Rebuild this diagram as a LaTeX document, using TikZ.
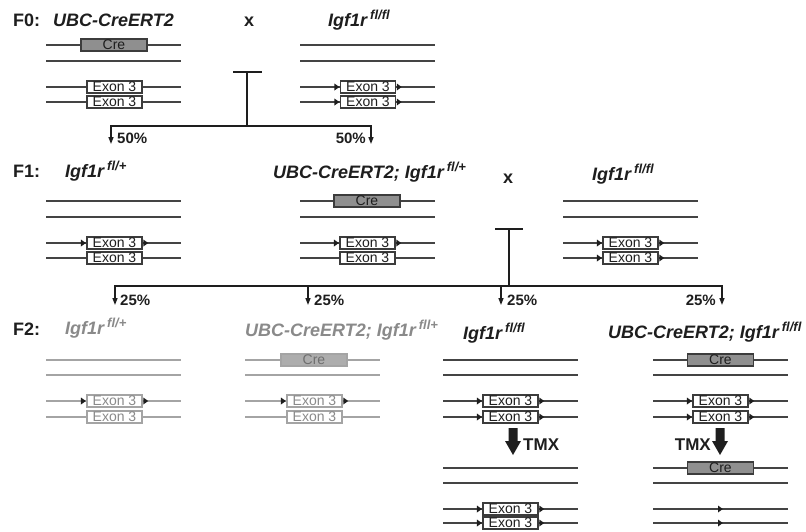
\documentclass[tikz,border=0pt]{standalone}
\usepackage{fontspec}
\setmainfont{Liberation Sans}[Ligatures=NoCommon]
\usetikzlibrary{arrows.meta}
\definecolor{ink}{HTML}{1E1E1E}
\definecolor{chr}{HTML}{444444}
\definecolor{boxc}{HTML}{3C3C3C}
\definecolor{crefill}{HTML}{8F8F8F}
\definecolor{fade}{HTML}{8A8A8A}
\definecolor{fadeline}{HTML}{A4A4A4}
\definecolor{fadecre}{HTML}{ADADAD}
\newcommand\chromat[3][]{\draw[chromline,#1] (#2,#3) -- ++(135,0);}
\newcommand\loxleft[2][]{\fill[loxp,#1] ([xshift=-5.5pt,yshift=3.5pt]#2.west) -- ([xshift=-0.6pt]#2.west) -- ([xshift=-5.5pt,yshift=-3.5pt]#2.west) -- cycle;}
\newcommand\loxright[2][]{\fill[loxp,#1] ([xshift=0.8pt,yshift=3.5pt]#2.east) -- ([xshift=5.6pt]#2.east) -- ([xshift=0.8pt,yshift=-3.5pt]#2.east) -- cycle;}
\newcommand\loxboth[2][]{\loxleft[#1]{#2}\loxright[#1]{#2}}
\newcommand\sups[1]{\hspace{3pt}\raisebox{7pt}{\fontsize{13}{13}\selectfont #1}}
\newcommand\tmxarrow[2]{\fill[ink] (#1-4.5,#2) -- (#1+4.5,#2) -- (#1+4.5,#2+13) -- (#1+8,#2+13) -- (#1,#2+27) -- (#1-8,#2+13) -- (#1-4.5,#2+13) -- cycle;}
\begin{document}
\begin{tikzpicture}[x=1pt,y=-1pt,
  chromline/.style={draw=chr,line width=1.3pt},
  exonbox/.style={draw=boxc,fill=white,line width=1.1pt,minimum width=55pt,minimum height=12pt,inner sep=0pt,text=ink,font=\fontsize{14}{14}\selectfont},
  crebox/.style={draw=boxc,fill=crefill,line width=1.1pt,minimum width=66pt,minimum height=12pt,inner sep=0pt,text=ink,font=\fontsize{14}{14}\selectfont},
  loxp/.style={fill=ink},
  title/.style={anchor=base west,inner sep=0pt,text=ink,font=\fontsize{18}{18}\selectfont\bfseries\itshape},
  gen/.style={anchor=base west,inner sep=0pt,text=ink,font=\fontsize{18}{18}\selectfont\bfseries},
  pct/.style={inner sep=0pt,text=ink,font=\fontsize{15}{15}\selectfont\bfseries},
  tmx/.style={anchor=base west,inner sep=0pt,text=ink,font=\fontsize{17}{17}\selectfont\bfseries},
  tree/.style={draw=ink,line width=2pt},
  treearrow/.style={draw=ink,line width=1.4pt,-{Triangle[length=7pt,width=5pt]}},
  fadeline/.style={draw=fadeline},
  fadebox/.style={draw=fadeline,text=fade},
  fadecrebox/.style={draw=fadeline,fill=fadecre,text=fade!80!black},
  fadetext/.style={text=fade}
]
\useasboundingbox (0,0) rectangle (806,531);
\fill[white] (0,0) rectangle (806,531);

% ---------- F0 ----------
\node[gen] (f0lab) at (13,26) {F0:};
\node[title] (f0t1) at (53,26) {UBC-CreERT2};
\node[gen] (f0x) at (244,26) {x};
\node[title] (f0t2) at (328,26) {Igf1r\sups{fl/fl}};

\chromat{46}{45}\chromat{46}{61}\chromat{46}{87}\chromat{46}{102}
\node[crebox] (f0a-cre) at (114,45) {Cre};
\node[exonbox] (f0a-e1) at (114.5,87) {Exon 3};
\node[exonbox] (f0a-e2) at (114.5,102) {Exon 3};

\chromat{300}{45}\chromat{300}{61}\chromat{300}{87}\chromat{300}{102}
\node[exonbox] (f0b-e1) at (368,87) {Exon 3};
\node[exonbox] (f0b-e2) at (368,102) {Exon 3};
\loxboth{f0b-e1}\loxboth{f0b-e2}

\coordinate (t0l) at (233,72); \coordinate (t0r) at (262,72);
\coordinate (t0m) at (247,72); \coordinate (t0b) at (247,126);
\coordinate (b0l) at (111,126); \coordinate (b0r) at (371,126);
\coordinate (a0l) at (111,144); \coordinate (a0r) at (371,144);
\draw[tree] (t0l) -- (t0r);
\draw[tree] (t0m) -- (t0b);
\draw[tree,line cap=rect] (b0l) -- (b0r);
\draw[treearrow] (b0l) -- (a0l);
\draw[treearrow] (b0r) -- (a0r);
\node[pct,anchor=west] (p0l) at (117,138) {50\%};
\node[pct,anchor=east] (p0r) at (366,138) {50\%};

% ---------- F1 ----------
\node[gen] (f1lab) at (13,177) {F1:};
\node[title] (f1t1) at (65,177) {Igf1r\sups{fl/+}};
\node[title] (f1t2) at (273,178) {UBC-CreERT2; Igf1r\sups{fl/+}};
\node[gen] (f1x) at (503,183) {x};
\node[title] (f1t3) at (592,180) {Igf1r\sups{fl/fl}};

\chromat{46}{201}\chromat{46}{217}\chromat{46}{243}\chromat{46}{258}
\node[exonbox] (f1a-e1) at (114.5,243) {Exon 3};
\node[exonbox] (f1a-e2) at (114.5,258) {Exon 3};
\loxboth{f1a-e1}

\chromat{300}{201}\chromat{300}{217}\chromat{300}{243}\chromat{300}{258}
\node[crebox] (f1b-cre) at (367,201) {Cre};
\node[exonbox] (f1b-e1) at (367.5,243) {Exon 3};
\node[exonbox] (f1b-e2) at (367.5,258) {Exon 3};
\loxboth{f1b-e1}

\chromat{563}{201}\chromat{563}{217}\chromat{563}{243}\chromat{563}{258}
\node[exonbox] (f1c-e1) at (630.5,243) {Exon 3};
\node[exonbox] (f1c-e2) at (630.5,258) {Exon 3};
\loxboth{f1c-e1}\loxboth{f1c-e2}

\coordinate (t1l) at (495,229); \coordinate (t1r) at (523,229);
\coordinate (t1m) at (509,229); \coordinate (t1b) at (509,286);
\coordinate (b1a) at (115,286); \coordinate (b1b) at (308,286);
\coordinate (b1c) at (501,286); \coordinate (b1d) at (722,286);
\coordinate (a1a) at (115,305); \coordinate (a1b) at (308,305);
\coordinate (a1c) at (501,305); \coordinate (a1d) at (722,305);
\draw[tree] (t1l) -- (t1r);
\draw[tree] (t1m) -- (t1b);
\draw[tree,line cap=rect] (b1a) -- (b1d);
\draw[treearrow] (b1a) -- (a1a);
\draw[treearrow] (b1b) -- (a1b);
\draw[treearrow] (b1c) -- (a1c);
\draw[treearrow] (b1d) -- (a1d);
\node[pct,anchor=west] (p1a) at (120,300) {25\%};
\node[pct,anchor=west] (p1b) at (314,300) {25\%};
\node[pct,anchor=west] (p1c) at (507,300) {25\%};
\node[pct,anchor=east] (p1d) at (716,300) {25\%};

% ---------- F2 ----------
\node[gen] (f2lab) at (13,335) {F2:};
\node[title,fadetext] (f2t1) at (65,334) {Igf1r\sups{fl/+}};
\node[title,fadetext] (f2t2) at (245,336) {UBC-CreERT2; Igf1r\sups{fll+}};
\node[title] (f2t3) at (463,339) {Igf1r\sups{fl/fl}};
\node[title] (f2t4) at (608,338) {UBC-CreERT2; Igf1r\sups{fl/fl}};

% group 1 (faded)
\chromat[fadeline]{46}{360}\chromat[fadeline]{46}{375}\chromat[fadeline]{46}{401}\chromat[fadeline]{46}{417}
\node[exonbox,fadebox] (f2a-e1) at (114.5,401) {Exon 3};
\node[exonbox,fadebox] (f2a-e2) at (114.5,417) {Exon 3};
\loxboth{f2a-e1}

% group 2 (faded)
\chromat[fadeline]{245}{360}\chromat[fadeline]{245}{375}\chromat[fadeline]{245}{401}\chromat[fadeline]{245}{417}
\node[crebox,fadecrebox] (f2b-cre) at (314,360) {Cre};
\node[exonbox,fadebox] (f2b-e1) at (314.5,401) {Exon 3};
\node[exonbox,fadebox] (f2b-e2) at (314.5,417) {Exon 3};
\loxboth{f2b-e1}

% group 3
\chromat{443}{360}\chromat{443}{375}\chromat{443}{401}\chromat{443}{417}
\node[exonbox] (f2c-e1) at (510.5,401) {Exon 3};
\node[exonbox] (f2c-e2) at (510.5,417) {Exon 3};
\loxboth{f2c-e1}\loxboth{f2c-e2}
\tmxarrow{513}{428}
\node[tmx] (tmx1) at (523,450) {TMX};
\chromat{443}{468}\chromat{443}{483}\chromat{443}{509}\chromat{443}{523}
\node[exonbox] (f2c-e3) at (510.5,509) {Exon 3};
\node[exonbox] (f2c-e4) at (510.5,523) {Exon 3};
\loxboth{f2c-e3}\loxboth{f2c-e4}

% group 4
\chromat{653}{360}\chromat{653}{375}\chromat{653}{401}\chromat{653}{417}
\node[crebox] (f2d-cre) at (720.5,360) {Cre};
\node[exonbox] (f2d-e1) at (720.5,401) {Exon 3};
\node[exonbox] (f2d-e2) at (720.5,417) {Exon 3};
\loxboth{f2d-e1}\loxboth{f2d-e2}
\tmxarrow{720}{428}
\node[tmx,anchor=base east] (tmx2) at (711,450) {TMX};
\chromat{653}{468}\chromat{653}{483}\chromat{653}{509}\chromat{653}{523}
\node[crebox] (f2d-cre2) at (720.5,468) {Cre};
\coordinate (lox1) at (718,509); \coordinate (lox2) at (718,523);
\fill[loxp] ([yshift=3.5pt]lox1) -- ([xshift=4.8pt]lox1) -- ([yshift=-3.5pt]lox1) -- cycle;
\fill[loxp] ([yshift=3.5pt]lox2) -- ([xshift=4.8pt]lox2) -- ([yshift=-3.5pt]lox2) -- cycle;
\end{tikzpicture}
\end{document}
